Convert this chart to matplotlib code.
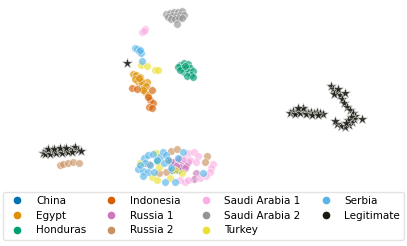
import matplotlib.pyplot as plt
from matplotlib.lines import Line2D

# 2-D embedding coordinates (arbitrary units)
china_x = [172, 178, 170]
china_y = [170, 170, 162]

egypt_x = [133, 136, 140, 138, 142, 147, 143, 145, 148, 141, 146, 143, 135, 139]
egypt_y = [74, 75, 77, 82, 85, 82, 88, 92, 95, 81, 86, 90, 79, 78]

honduras_x = [180, 184, 188, 182, 186, 190, 178, 184, 189, 193, 191, 187, 193, 180, 185, 157]
honduras_y = [65, 63, 64, 68, 68, 68, 67, 72, 72, 71, 75, 76, 77, 70, 66, 161]

indonesia_x = [132, 137, 152, 150, 153, 149, 152, 148]
indonesia_y = [88, 89, 90, 100, 103, 107, 108, 97]

russia1_x = [173, 178, 183, 180, 186, 196, 194, 176, 182, 188, 185, 179]
russia1_y = [162, 163, 164, 167, 165, 173, 179, 166, 160, 162, 168, 159]

russia2_x = [171, 177, 149, 168, 166, 207, 205, 159, 60, 63, 68, 73, 79]
russia2_y = [151, 149, 164, 160, 172, 156, 162, 173, 165, 164, 163, 162, 163]

saudi1_x = [142, 145, 144, 188, 194, 198, 184, 190, 196, 213, 211, 210, 180, 185, 188, 200, 206]
saudi1_y = [32, 29, 31, 153, 152, 156, 159, 160, 162, 164, 168, 172, 180, 182, 180, 178, 176]

saudi2_x = [166, 170, 174, 178, 182, 168, 172, 176, 180, 184, 171, 175, 179, 177, 182]
saudi2_y = [14, 13, 12, 12, 11, 17, 16, 16, 15, 15, 19, 19, 18, 24, 18]

turkey_x = [141, 147, 155, 158, 156, 140, 159, 175, 182, 152, 157, 170]
turkey_y = [65, 66, 70, 70, 153, 163, 167, 170, 173, 177, 180, 178]

serbia_x = [135, 137, 139, 141, 140, 142, 144, 148, 153, 160, 163, 166, 183, 145, 164,
            138, 143, 148, 154, 171, 203, 143, 165, 175, 140, 150, 157, 168, 178]
serbia_y = [48, 49, 51, 53, 50, 61, 158, 155, 154, 157, 152, 155, 152, 163, 163,
            169, 171, 172, 172, 168, 173, 176, 182, 182, 165, 165, 160, 160, 158]

legit_x = [127,
           43, 46, 49, 52, 55, 58, 61, 64, 67, 70, 73, 75, 78, 81, 45, 50, 56, 62, 68, 72, 48, 54, 60, 66,
           290, 293, 296, 299, 302, 305, 308, 311, 314, 317, 320, 323, 295, 300, 306, 312, 318, 303, 298,
           331, 333, 335, 337, 340, 334, 338, 345, 342, 344, 347, 350, 353, 355, 354, 352, 349, 345, 341,
           337, 335, 362, 351, 348, 346]
legit_y = [63,
           153, 151, 152, 150, 152, 150, 151, 149, 151, 150, 149, 147, 150, 151, 154, 154, 153, 153, 152, 152, 149, 149, 148, 148,
           113, 111, 112, 110, 110, 111, 113, 112, 113, 112, 113, 114, 114, 113, 114, 115, 115, 108, 108,
           86, 89, 91, 93, 95, 94, 89, 93, 99, 103, 107, 110, 113, 116, 119, 122, 125, 127, 126,
           124, 121, 119, 117, 120, 123]

labels = ["China", "Egypt", "Honduras", "Indonesia", "Russia 1", "Russia 2",
          "Saudi Arabia 1", "Saudi Arabia 2", "Turkey", "Serbia", "Legitimate"]
colors = ["#0173b2", "#de8f05", "#029e73", "#d55e00", "#cc78bc", "#ca9161",
          "#fbafe4", "#949494", "#ece133", "#56b4e9", "#1b1a12"]
xs = [china_x, egypt_x, honduras_x, indonesia_x, russia1_x, russia2_x,
      saudi1_x, saudi2_x, turkey_x, serbia_x]
ys = [china_y, egypt_y, honduras_y, indonesia_y, russia1_y, russia2_y,
      saudi1_y, saudi2_y, turkey_y, serbia_y]

fig = plt.figure(figsize=(4.07, 2.46), dpi=100)
ax = fig.add_axes([0, 56 / 246, 1, 190 / 246])

for x, y, c in zip(xs, ys, colors[:10]):
    ax.scatter(x, y, s=30, c=c, alpha=0.65, edgecolors="white", linewidths=0.5)
ax.scatter(legit_x, legit_y, s=60, marker="*", c=colors[10], alpha=0.9,
           edgecolors="#dddddd", linewidths=0.4)

ax.set_xlim(0, 407)
ax.set_ylim(190, 0)
ax.axis("off")

handles = [Line2D([], [], marker="o", ls="", color=c, markersize=4.5) for c in colors]
fig.legend(handles, labels, loc="lower center", bbox_to_anchor=(0.5, 0.005), ncol=4,
           fontsize=7.5, frameon=True, handletextpad=0.8, columnspacing=1.4,
           labelspacing=0.45, borderpad=0.4, edgecolor="#dddddd")

plt.savefig("out.png", dpi=100)
